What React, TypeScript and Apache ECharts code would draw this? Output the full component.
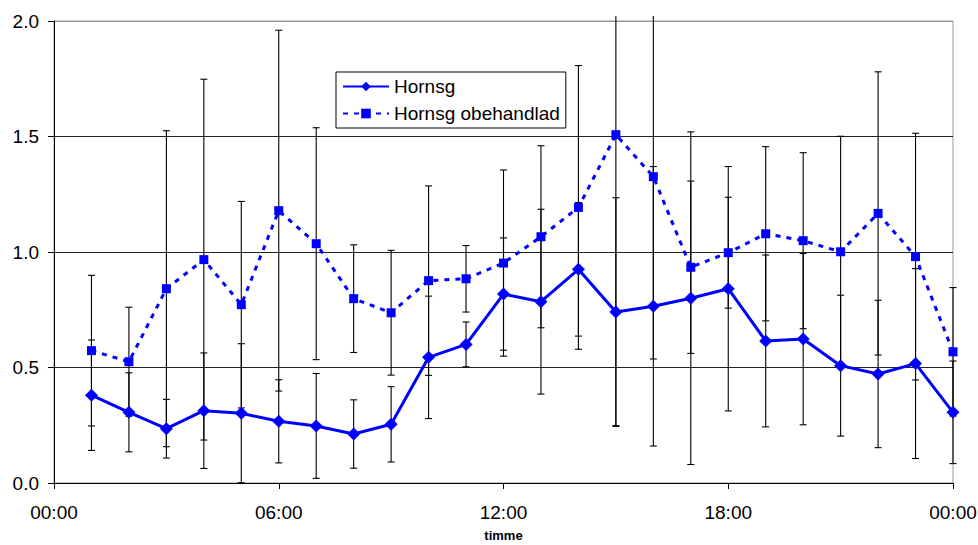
import React, { useEffect, useRef } from "react";
import * as echarts from "echarts";

const hours = [1, 2, 3, 4, 5, 6, 7, 8, 9, 10, 11, 12, 13, 14, 15, 16, 17, 18, 19, 20, 21, 22, 23, 24];
const hornsg = [0.38, 0.306, 0.235, 0.313, 0.302, 0.267, 0.247, 0.212, 0.254, 0.544, 0.6, 0.818, 0.785, 0.925, 0.74, 0.765, 0.8, 0.841, 0.615, 0.623, 0.508, 0.472, 0.517, 0.306];
const hornsgErr = [0.239, 0.171, 0.127, 0.25, 0.301, 0.18, 0.227, 0.148, 0.163, 0.265, 0.097, 0.243, 0.4, 0.289, 0.495, 0.605, 0.72, 0.529, 0.372, 0.371, 0.305, 0.319, 0.411, 0.222];
const obehandlad = [0.573, 0.525, 0.841, 0.967, 0.772, 1.179, 1.036, 0.798, 0.737, 0.876, 0.884, 0.952, 1.066, 1.193, 1.508, 1.326, 0.934, 0.997, 1.079, 1.049, 1.001, 1.167, 0.98, 0.568];
const obehandladErr = [0.326, 0.236, 0.684, 0.781, 0.447, 0.781, 0.502, 0.233, 0.27, 0.41, 0.144, 0.403, 0.394, 0.614, 1.26, 0.789, 0.373, 0.24, 0.377, 0.381, 0.5, 0.613, 0.534, 0.278];
const xTickLabels = ["00:00", "06:00", "12:00", "18:00", "00:00"];
const seriesNames = ["Hornsg", "Hornsg obehandlad"];

const FONT = "'Liberation Sans', Arial, sans-serif";
const BLUE = "#0000FF";

function errData(vals: number[], errs: number[]) {
  return hours.map((h, i) => [h, vals[i] - errs[i], vals[i] + errs[i]]);
}

function renderErr(params: any, api: any) {
  const cs = params.coordSys;
  const x = api.value(0);
  const lo = api.coord([x, api.value(1)]);
  const hi = api.coord([x, api.value(2)]);
  const topLimit = cs.y - 5;
  const bottomLimit = cs.y + cs.height;
  const hw = 3.5;
  const style = { stroke: "#000", lineWidth: 1.1 };
  const children: any[] = [];
  let yTop = hi[1];
  let topCap = true;
  if (yTop < topLimit) {
    yTop = topLimit;
    topCap = false;
  }
  let yBot = lo[1];
  let botCap = true;
  if (yBot > bottomLimit) {
    yBot = bottomLimit;
    botCap = false;
  }
  children.push({ type: "line", shape: { x1: lo[0], y1: yBot, x2: lo[0], y2: yTop }, style });
  if (topCap) children.push({ type: "line", shape: { x1: lo[0] - hw, y1: yTop, x2: lo[0] + hw, y2: yTop }, style });
  if (botCap) children.push({ type: "line", shape: { x1: lo[0] - hw, y1: yBot, x2: lo[0] + hw, y2: yBot }, style });
  return { type: "group", children };
}

export default function App() {
  const ref = useRef<HTMLDivElement>(null);
  useEffect(() => {
    if (!ref.current) return;
    const chart = echarts.init(ref.current, null, { renderer: "svg" });
    chart.setOption({
      animation: false,
      backgroundColor: "#fff",
      textStyle: { fontFamily: FONT },
      grid: {
        left: 54,
        right: 25,
        top: 21,
        bottom: 62,
        containLabel: false,
        outerBoundsMode: "none",
        show: true,
        borderColor: "#999",
        borderWidth: 1,
      },
      legend: {
        orient: "vertical",
        left: 336,
        top: 72,
        padding: [5, 6, 5, 6],
        itemGap: 8,
        itemWidth: 46,
        itemHeight: 12,
        borderColor: "#000",
        borderWidth: 1,
        borderRadius: 0,
        backgroundColor: "#fff",
        data: seriesNames,
        textStyle: { fontFamily: FONT, fontSize: 19, color: "#000", padding: [0, 0, 0, 0] },
      },
      xAxis: {
        type: "value",
        min: 0,
        max: 24,
        interval: 6,
        name: "timme",
        nameLocation: "middle",
        nameGap: 46,
        nameTextStyle: { fontFamily: FONT, fontSize: 13, lineHeight: 13, fontWeight: "bold", color: "#000" },
        axisLine: { show: true, onZero: false, lineStyle: { color: "#000", width: 1 } },
        axisTick: { show: true, length: 6, lineStyle: { color: "#000" } },
        axisLabel: {
          margin: 20,
          fontFamily: FONT,
          fontSize: 19,
          color: "#000",
          formatter: (v: number) => xTickLabels[Math.round(v / 6)] ?? "",
        },
        splitLine: { show: false },
      },
      yAxis: {
        type: "value",
        min: 0,
        max: 2,
        interval: 0.5,
        axisLine: { show: true, lineStyle: { color: "#000", width: 1 } },
        axisTick: { show: true, length: 6, lineStyle: { color: "#000" } },
        axisLabel: {
          margin: 15,
          fontFamily: FONT,
          fontSize: 19,
          color: "#000",
          formatter: (v: number) => v.toFixed(1),
        },
        splitLine: { show: true, lineStyle: { color: ["#000", "#222", "#222", "#222", "#999"], width: 1 } },
      },
      series: [
        {
          type: "custom",
          name: "errHornsg",
          renderItem: renderErr,
          data: errData(hornsg, hornsgErr),
          encode: { x: 0, y: [1, 2] },
          z: 1,
          silent: true,
        },
        {
          type: "custom",
          name: "errObeh",
          renderItem: renderErr,
          data: errData(obehandlad, obehandladErr),
          encode: { x: 0, y: [1, 2] },
          z: 1,
          silent: true,
        },
        {
          type: "line",
          name: seriesNames[0],
          data: hours.map((h, i) => [h, hornsg[i]]),
          symbol: "diamond",
          symbolSize: 13,
          lineStyle: { color: BLUE, width: 3 },
          itemStyle: { color: BLUE },
          z: 3,
        },
        {
          type: "line",
          name: seriesNames[1],
          data: hours.map((h, i) => [h, obehandlad[i]]),
          symbol: "rect",
          symbolSize: 9,
          lineStyle: { color: BLUE, width: 3, type: [5, 6] },
          itemStyle: { color: BLUE },
          z: 3,
        },
      ],
    });
    return () => chart.dispose();
  }, []);
  return <div ref={ref} style={{ position: "fixed", left: 0, top: 0, width: 978, height: 545 }} />;
}
